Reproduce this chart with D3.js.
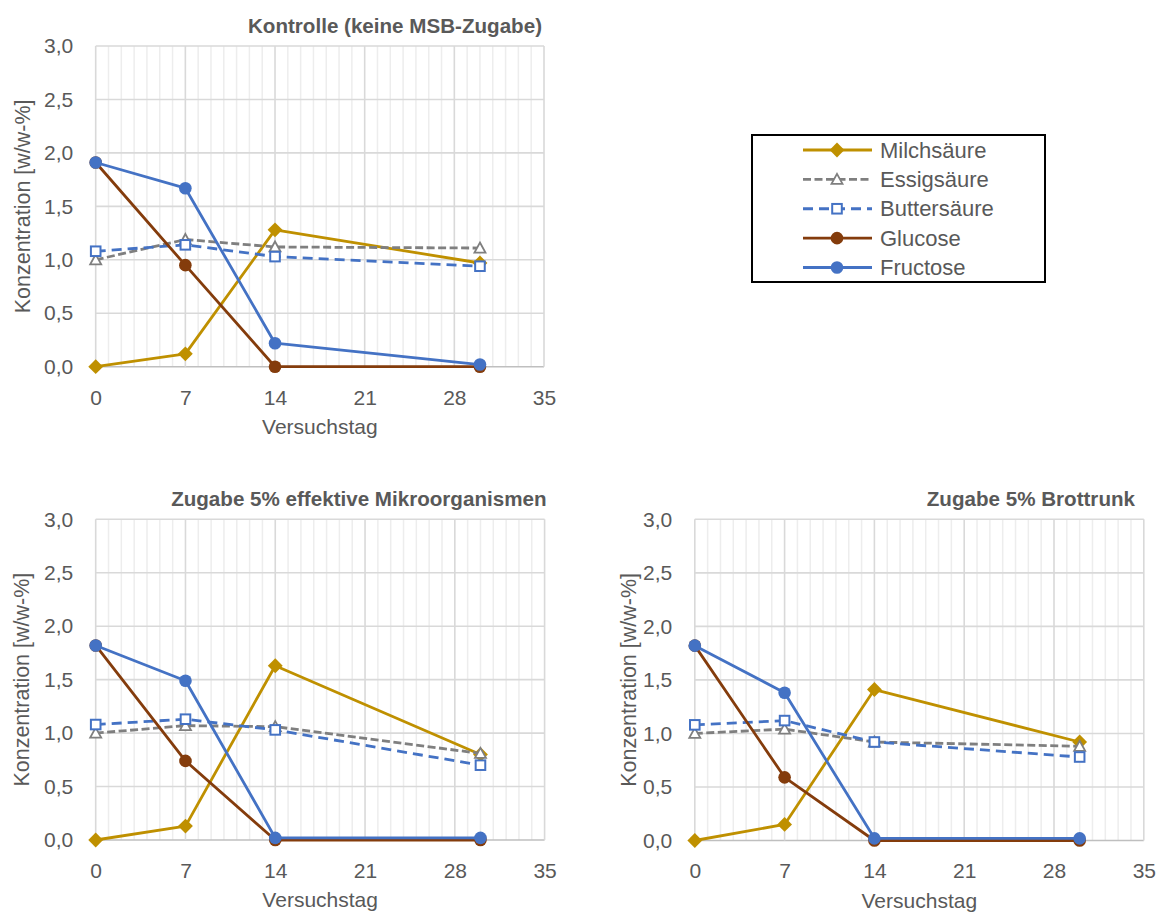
<!DOCTYPE html>
<html><head><meta charset="utf-8">
<script src="https://cdn.jsdelivr.net/npm/d3@7"></script>
<style>body{margin:0;background:#fff}svg{display:block}text{font-family:"Liberation Sans",Arial,sans-serif}</style>
</head><body>
<svg id="c" width="1161" height="920"></svg>
<script>
// ---- data ----
const days = [0, 7, 14, 30];
const seriesNames = ["Milchsäure", "Essigsäure", "Buttersäure", "Glucose", "Fructose"];
const xTickValues = [0, 7, 14, 21, 28, 35];
const yTickValues = [0, 0.5, 1.0, 1.5, 2.0, 2.5, 3.0];
const panelTitles = ["Kontrolle (keine MSB-Zugabe)", "Zugabe 5% effektive Mikroorganismen", "Zugabe 5% Brottrunk"];

const kontrolleMilch  = [0.00, 0.12, 1.28, 0.97];
const kontrolleEssig  = [1.00, 1.19, 1.12, 1.11];
const kontrolleButter = [1.08, 1.14, 1.03, 0.94];
const kontrolleGluc   = [1.91, 0.95, 0.00, 0.00];
const kontrolleFruc   = [1.91, 1.67, 0.22, 0.02];

const emMilch  = [0.00, 0.13, 1.63, 0.80];
const emEssig  = [1.00, 1.07, 1.06, 0.81];
const emButter = [1.08, 1.13, 1.03, 0.70];
const emGluc   = [1.82, 0.74, 0.00, 0.00];
const emFruc   = [1.82, 1.49, 0.02, 0.02];

const btMilch  = [0.00, 0.15, 1.41, 0.92];
const btEssig  = [1.00, 1.04, 0.92, 0.88];
const btButter = [1.08, 1.12, 0.92, 0.78];
const btGluc   = [1.82, 0.59, 0.00, 0.00];
const btFruc   = [1.82, 1.38, 0.02, 0.02];

// ---- styles ----
const styles = [
  {color: "#BF9000", dash: null,   marker: "diamond"},
  {color: "#7F7F7F", dash: "8,3.5",  marker: "triangle"},
  {color: "#4472C4", dash: "10,6", marker: "square"},
  {color: "#843C0C", dash: null,   marker: "circle"},
  {color: "#4472C4", dash: null,   marker: "circle"}
];

const panels = [
  {title: panelTitles[0], left: 95.7, top: 46, width: 448.3, height: 320.7, titleEnd: 542, yTitleOff: 66,
   data: [kontrolleMilch, kontrolleEssig, kontrolleButter, kontrolleGluc, kontrolleFruc]},
  {title: panelTitles[1], left: 95.7, top: 519.3, width: 448.9, height: 320.7, titleEnd: 546.5, yTitleOff: 67,
   data: [emMilch, emEssig, emButter, emGluc, emFruc]},
  {title: panelTitles[2], left: 694.8, top: 519.3, width: 449, height: 321.2, titleEnd: 1135, yTitleOff: 59,
   data: [btMilch, btEssig, btButter, btGluc, btFruc]}
];

const svg = d3.select("#c");
const fmt = v => d3.format(".1f")(v).replace(".", ",");
const textColor = "#595959";
const FS = 21;

function drawMarker(g, type, color, x, y) {
  if (type === "circle") {
    g.append("circle").attr("cx", x).attr("cy", y).attr("r", 6.3).attr("fill", color);
  } else if (type === "diamond") {
    g.append("path").attr("d", d3.symbol(d3.symbolSquare, 110)())
      .attr("transform", `translate(${x},${y}) rotate(45)`).attr("fill", color);
  } else if (type === "square") {
    g.append("rect").attr("x", x - 4.8).attr("y", y - 4.8).attr("width", 9.6).attr("height", 9.6)
      .attr("fill", "#fff").attr("stroke", color).attr("stroke-width", 2);
  } else if (type === "triangle") {
    g.append("path").attr("d", `M${x},${y-5.5}L${x+5.5},${y+4.5}L${x-5.5},${y+4.5}Z`)
      .attr("fill", "#fff").attr("stroke", color).attr("stroke-width", 1.8).attr("stroke-linejoin", "miter");
  }
}

panels.forEach(p => {
  const x = d3.scaleLinear().domain([0, 35]).range([p.left, p.left + p.width]);
  const y = d3.scaleLinear().domain([0, 3]).range([p.top + p.height, p.top]);
  const g = svg.append("g");

  // minor vertical gridlines (every day)
  g.append("g").selectAll("line").data(d3.range(1, 35).filter(d => d % 7 !== 0)).join("line")
    .attr("x1", d => x(d)).attr("x2", d => x(d)).attr("y1", y(0)).attr("y2", y(3))
    .attr("stroke", "#ededed").attr("stroke-width", 1.5);
  // major gridlines
  g.append("g").selectAll("line").data(yTickValues).join("line")
    .attr("x1", x(0)).attr("x2", x(35)).attr("y1", d => y(d)).attr("y2", d => y(d))
    .attr("stroke", d => d === 0 ? "#bfbfbf" : "#d9d9d9").attr("stroke-width", 1.6);
  g.append("g").selectAll("line").data(xTickValues).join("line")
    .attr("x1", d => x(d)).attr("x2", d => x(d)).attr("y1", y(0)).attr("y2", y(3))
    .attr("stroke", "#d9d9d9").attr("stroke-width", 1.6);

  // axes (labels only)
  const yAxis = g.append("g").attr("transform", `translate(${x(0)},0)`)
    .call(d3.axisLeft(y).tickValues(yTickValues).tickFormat(fmt).tickSize(0).tickPadding(22.5));
  yAxis.select(".domain").remove();
  yAxis.selectAll("text").attr("font-size", FS).attr("fill", textColor)
    .attr("font-family", '"Liberation Sans",Arial,sans-serif');
  const xAxis = g.append("g").attr("transform", `translate(0,${y(0)})`)
    .call(d3.axisBottom(x).tickValues(xTickValues).tickFormat(d3.format("d")).tickSize(0).tickPadding(23));
  xAxis.select(".domain").remove();
  xAxis.selectAll("text").attr("font-size", FS).attr("fill", textColor)
    .attr("font-family", '"Liberation Sans",Arial,sans-serif');

  // axis titles
  g.append("text").attr("x", (x(0) + x(35)) / 2).attr("y", y(0) + 67)
    .attr("text-anchor", "middle").attr("font-size", FS).attr("fill", textColor).text("Versuchstag");
  g.append("text").attr("transform", `translate(${p.left - p.yTitleOff},${(y(0) + y(3)) / 2}) rotate(-90)`)
    .attr("text-anchor", "middle").attr("font-size", 21.5).attr("fill", textColor).text("Konzentration [w/w-%]");
  // panel title
  g.append("text").attr("x", p.titleEnd).attr("y", p.top - 13.5).attr("text-anchor", "end")
    .attr("font-size", 20.6).attr("font-weight", "bold").attr("fill", textColor).text(p.title);

  // series
  const line = d3.line().x((d, i) => x(days[i])).y(d => y(d));
  p.data.forEach((vals, si) => {
    const st = styles[si];
    const sg = g.append("g");
    sg.append("path").attr("d", line(vals)).attr("fill", "none").attr("stroke", st.color)
      .attr("stroke-width", 2.8).attr("stroke-dasharray", st.dash).attr("stroke-linejoin", "round");
    vals.forEach((v, i) => drawMarker(sg, st.marker, st.color, x(days[i]), y(v)));
  });
});

// legend
const lg = svg.append("g");
lg.append("rect").attr("x", 752).attr("y", 135).attr("width", 293).attr("height", 147)
  .attr("fill", "#fff").attr("stroke", "#000").attr("stroke-width", 2);
const legendY = d3.scalePoint().domain(seriesNames).range([150, 267.5]);
seriesNames.forEach((name, i) => {
  const st = styles[i];
  const yy = legendY(name);
  lg.append("line").attr("x1", 803).attr("x2", 872).attr("y1", yy).attr("y2", yy)
    .attr("stroke", st.color).attr("stroke-width", 2.8).attr("stroke-dasharray", st.dash);
  drawMarker(lg, st.marker, st.color, 837, yy);
  lg.append("text").attr("x", 880).attr("y", yy + 7.5).attr("font-size", 22)
    .attr("fill", textColor).text(name);
});
</script>
</body></html>
